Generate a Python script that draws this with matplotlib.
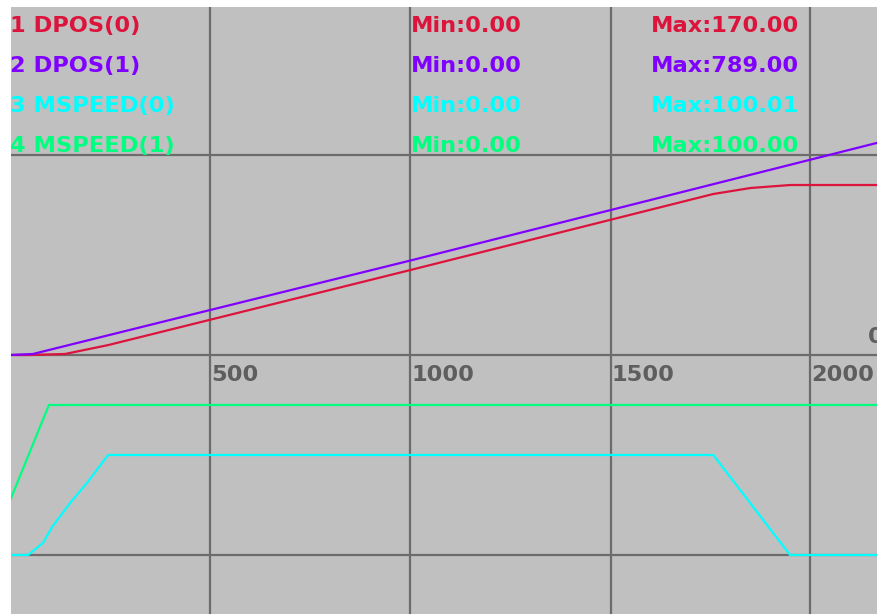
import matplotlib
matplotlib.use("Agg")
import matplotlib.pyplot as plt

W, H = 877, 614
DPI = 100

# ---- data (time in ms, values in channel units) ----
dpos0_t = [0, 45, 136, 245, 1000, 1757, 1850, 1950, 2200]
dpos0_v = [0, 0, 1, 10, 85, 161, 167, 170, 170]

dpos1_t = [0, 56, 86, 474, 1000, 2200]
dpos1_v = [0, 1, 4, 42.5, 94.5, 215.5]

mspeed0_t = [0, 44, 81, 104, 149, 191, 244, 1757, 1949, 2200]
mspeed0_v = [0, 0, 12, 28, 52, 72, 100, 100, 0, 0]

mspeed1_t = [0, 96, 2200]
mspeed1_v = [37, 100, 100]

names = ["1 DPOS(0)", "2 DPOS(1)", "3 MSPEED(0)", "4 MSPEED(1)"]
mins = ["Min:0.00", "Min:0.00", "Min:0.00", "Min:0.00"]
maxs = ["Max:170.00", "Max:789.00", "Max:100.01", "Max:100.00"]
xticks = [500, 1000, 1500, 2000]

colors = ["#DC143C", "#8000FF", "#00FFFF", "#00FF80"]
# display scale (pixels per unit) and zero offsets of each channel
offsets = [259, 259, 59, 59]
scales = [1.0, 1.0, 1.0, 1.5]

fig = plt.figure(figsize=(W / DPI, H / DPI), dpi=DPI)
fig.patch.set_facecolor("white")
ax = fig.add_axes([11 / W, 0, (W - 11) / W, (H - 7) / H])
ax.set_facecolor("#C0C0C0")
ax.set_xlim((11 - 10.5) * 2.5, (W - 10.5) * 2.5)
ax.set_ylim(0, H - 7)
for s in ax.spines.values():
    s.set_visible(False)
ax.set_xticks([])
ax.set_yticks([])

grid_c = "#6C6C6C"
for xt in xticks:
    ax.axvline(xt, color=grid_c, lw=1.6, zorder=1)
for yg in [59, 259, 459]:
    ax.axhline(yg, color=grid_c, lw=1.6, zorder=1)

series = [(dpos0_t, dpos0_v), (dpos1_t, dpos1_v), (mspeed0_t, mspeed0_v), (mspeed1_t, mspeed1_v)]
for (t, v), c, off, sc in zip(series, colors, offsets, scales):
    ax.plot(t, [off + val * sc for val in v], color=c, lw=1.6, zorder=3,
            solid_joinstyle="miter")

fs = 16.2
def ftext(xp, yp, s, **kw):
    fig.text(xp / W, 1 - yp / H, s, fontsize=fs, fontweight="bold",
             family="DejaVu Sans", va="baseline", ha="left", **kw)

for i, (n, mn, mx, c) in enumerate(zip(names, mins, maxs, colors)):
    base = 32 + 40 * i
    ftext(10, base, n, color=c)
    ftext(411, base, mn, color=c)
    ftext(651, base, mx, color=c)

for xt in xticks:
    xp = 10.5 + xt / 2.5
    ftext(xp + 1, 381, str(xt), color="#5E5E5E")
ftext(868, 343, "0", color="#5E5E5E")

fig.savefig("out.png", dpi=DPI, facecolor="white")
